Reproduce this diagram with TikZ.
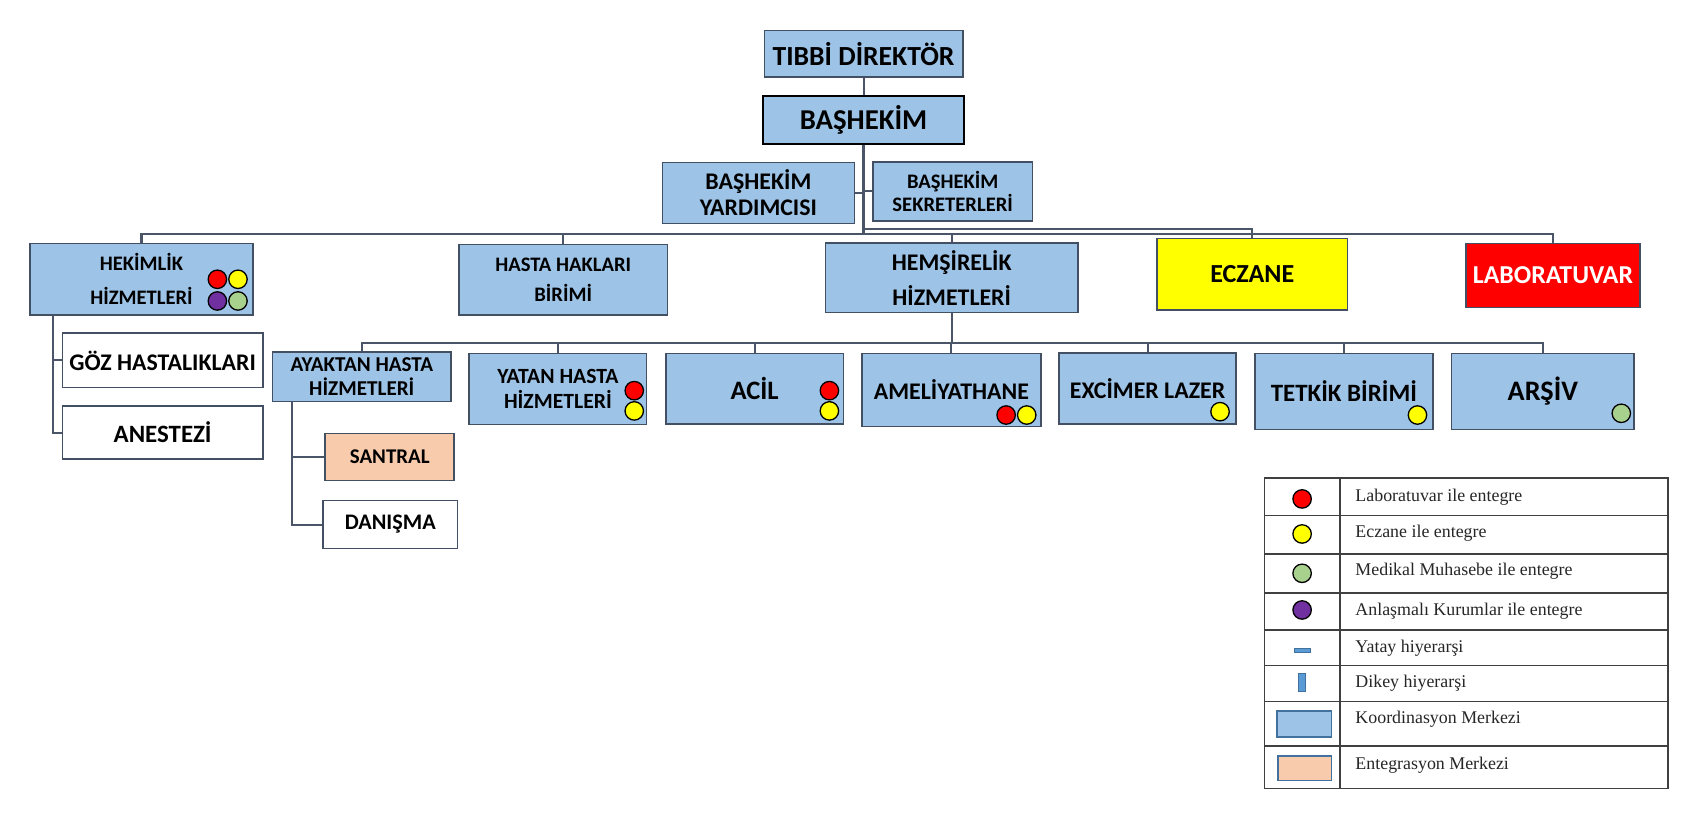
\documentclass[tikz,border=0pt]{standalone}
\usepackage{fontspec}
\setmainfont{Liberation Serif}
\newfontfamily\boxfont{Carlito}
\usepackage{xcolor}
\usepackage{tikz}

\definecolor{coord_blue}{HTML}{9DC3E6}
\definecolor{integ_peach}{HTML}{F8CBAD}
\definecolor{edge_gray}{HTML}{435063}
\definecolor{wire_gray}{HTML}{4A5668}
\definecolor{dot_red}{HTML}{FF0000}
\definecolor{dot_yellow}{HTML}{FFFF00}
\definecolor{dot_green}{HTML}{A9D18E}
\definecolor{dot_purple}{HTML}{7030A0}
\definecolor{legend_blue}{HTML}{41719C}
\definecolor{bar_blue}{HTML}{5B9BD5}

\tikzset{
    treenode/.style = {align=center, inner sep=0pt, text centered, rectangle, draw=edge_gray, line width=1.5pt},
    blue_node/.style = {treenode, fill=coord_blue},
    white_node/.style = {treenode, fill=white},
    peach_node/.style = {treenode, fill=integ_peach},
    yellow_node/.style = {treenode, fill=dot_yellow},
    red_node/.style = {treenode, fill=dot_red, text=white},
    chief_node/.style = {blue_node, draw=black, line width=2.2pt},
    dim/.style 2 args = {minimum width=#1pt, minimum height=#2pt},
    txt/.style 2 args = {font=\boxfont\bfseries\fontsize{#1}{#2}\selectfont},
    wire/.style = {draw=wire_gray, line width=1.9pt},
    trunk/.style = {draw=wire_gray, line width=2.6pt},
    dot_ring/.style = {draw=black, line width=1.2pt},
    grid_line/.style = {draw=black!75, line width=1.2pt},
    legend_text/.style = {anchor=west, inner sep=0pt, font=\fontsize{16.5}{19}\selectfont, text=black!85}
}

\begin{document}
\begin{tikzpicture}[x=1pt, y=-1pt]
    \useasboundingbox (0,0) rectangle (1568,756.3);

    % top of the chart
    \node[blue_node, dim={183}{43}, txt={25.5}{28}] (tibbi) at (796.5,49.5) {TIBBİ DİREKTÖR};
    \node[chief_node, dim={185}{44}, txt={26.5}{30}] (bashekim) at (796.5,110.7) {BAŞHEKİM};
    \node[blue_node, dim={177}{56}, txt={22}{24}] (yardimci) at (699.5,178) {BAŞHEKİM\\YARDIMCISI};
    \node[blue_node, dim={147.5}{54}, txt={19}{21}] (sekreter) at (878.7,176.6) {BAŞHEKİM\\SEKRETERLERİ};

    % first level
    \node[blue_node, dim={206}{66}, txt={19}{31}] (hekimlik) at (130.5,257.5) {HEKİMLİK\\HİZMETLERİ};
    \node[blue_node, dim={192}{65}, txt={19}{28}] (hasta) at (519.5,258) {HASTA HAKLARI\\BİRİMİ};
    \node[blue_node, dim={233}{64}, txt={22}{33}] (hemsire) at (877.8,256.4) {HEMŞİRELİK\\HİZMETLERİ};
    \node[yellow_node, dim={176}{66}, txt={24}{27}] (eczane) at (1155,253) {ECZANE};
    \node[red_node, dim={160.7}{59}, txt={23.8}{27}] (lab) at (1432.4,254) {LABORATUVAR};

    % under hekimlik
    \node[white_node, dim={185}{50}, txt={22}{25}] (goz) at (150,332.4) {GÖZ HASTALIKLARI};
    \node[white_node, dim={185}{49}, txt={23}{25}] (anestezi) at (150,399) {ANESTEZİ};

    % under hemsirelik
    \node[blue_node, dim={164.5}{45.5}, txt={19.5}{22}] (ayaktan) at (333.7,347.7) {AYAKTAN HASTA\\HİZMETLERİ};
    \node[blue_node, dim={163.6}{65.4}, txt={20}{22.5}] (yatan) at (514.6,358.7) {YATAN HASTA\\HİZMETLERİ};
    \node[blue_node, dim={164}{65}, txt={24.5}{26}] (acil) at (696,358.5) {ACİL};
    \node[blue_node, dim={165}{67.6}, txt={22}{25}] (ameliyat) at (877.5,359.7) {AMELİYATHANE};
    \node[blue_node, dim={163}{65.5}, txt={22}{25}] (excimer) at (1058.5,358.6) {EXCİMER LAZER};
    \node[blue_node, dim={164}{70}, txt={23}{25}] (tetkik) at (1239.5,361) {TETKİK BİRİMİ};
    \node[blue_node, dim={168.5}{70}, txt={26}{29}] (arsiv) at (1423,361) {ARŞİV};

    % under ayaktan
    \node[peach_node, dim={119}{43.3}, txt={19.3}{22}] (santral) at (359.5,421.4) {SANTRAL};
    \node[white_node, dim={124}{44}, txt={20.5}{23}] (danisma) at (360,483.8) {DANIŞMA};

    % connectors
    \coordinate (hub) at (796.5,216);
    \coordinate (hub_e) at (796.5,211);
    \coordinate (hub2) at (877.8,316.7);
    \coordinate (hek_l) at (48.5,290.5);
    \coordinate (ayk_l) at (269,370.5);

    \draw[wire] (tibbi) -- (bashekim);
    \draw[trunk] (bashekim.south) -- (hub);
    \draw[wire] (yardimci.east) -- (yardimci.east -| hub);
    \draw[wire] (sekreter.west) -- (sekreter.west -| hub);
    \draw[wire] (hekimlik.north) |- (hub) -| (lab.north);
    \draw[wire] (hub_e) -| (eczane.north);
    \draw[wire] (hasta.north) -- (hasta.north |- hub);
    \draw[wire] (hemsire.north) -- (hemsire.north |- hub);

    \draw[wire] (hemsire.south) -- (hub2);
    \draw[wire] (ayaktan.north) |- (hub2) -| (arsiv.north);
    \foreach \n in {yatan,acil,ameliyat,excimer,tetkik}
        \draw[wire] (\n.north) -- (\n.north |- hub2);

    \draw[wire] (hek_l) |- (anestezi.west);
    \draw[wire] (goz.west) -- (goz.west -| hek_l);
    \draw[wire] (ayk_l) |- (danisma.west);
    \draw[wire] (santral.west) -- (santral.west -| ayk_l);

    % integration dots
    \draw[dot_ring, fill=dot_red] (200.5,257.6) circle (8.5pt);
    \draw[dot_ring, fill=dot_yellow] (219.5,257.6) circle (8.5pt);
    \draw[dot_ring, fill=dot_purple] (200.5,277.6) circle (8.5pt);
    \draw[dot_ring, fill=dot_green] (219.5,277.6) circle (8.5pt);
    \draw[dot_ring, fill=dot_red] (585,360.3) circle (8.5pt);
    \draw[dot_ring, fill=dot_yellow] (585,379) circle (8.5pt);
    \draw[dot_ring, fill=dot_red] (765,360.3) circle (8.5pt);
    \draw[dot_ring, fill=dot_yellow] (765,379) circle (8.5pt);
    \draw[dot_ring, fill=dot_red] (928,382.8) circle (8.5pt);
    \draw[dot_ring, fill=dot_yellow] (947,382.8) circle (8.5pt);
    \draw[dot_ring, fill=dot_yellow] (1125.3,379.7) circle (8.5pt);
    \draw[dot_ring, fill=dot_yellow] (1307.4,382.8) circle (8.5pt);
    \draw[dot_ring, fill=dot_green] (1495.4,381.2) circle (8.5pt);

    % legend
    \draw[grid_line] (1166,441) rectangle (1538.5,727);
    \foreach \y in {475.5,511,547,581,614,647,688}
        \draw[grid_line] (1166,\y) -- (1538.5,\y);
    \draw[grid_line] (1236,441) -- (1236,727);

    \draw[dot_ring, fill=dot_red] (1201,460.2) circle (8.5pt);
    \draw[dot_ring, fill=dot_yellow] (1201,492.5) circle (8.5pt);
    \draw[dot_ring, fill=dot_green] (1201,528.8) circle (8.5pt);
    \draw[dot_ring, fill=dot_purple] (1201,562.6) circle (8.5pt);
    \draw[draw=legend_blue, fill=bar_blue, line width=0.8pt] (1194,598) rectangle (1209,601.5);
    \draw[draw=legend_blue, fill=bar_blue, line width=0.8pt] (1198,621) rectangle (1204,638);
    \draw[draw=legend_blue, fill=coord_blue, line width=1.6pt] (1178,656) rectangle (1228,680);
    \draw[draw=legend_blue, fill=integ_peach, line width=1.6pt] (1179,697) rectangle (1228,720);

    \node[legend_text] (leg_lab) at (1250,458.2) {Laboratuvar ile entegre};
    \node[legend_text] (leg_ecz) at (1250,492) {Eczane ile entegre};
    \node[legend_text] (leg_med) at (1250,527.3) {Medikal Muhasebe ile entegre};
    \node[legend_text] (leg_anl) at (1250,564.2) {Anlaşmalı Kurumlar ile entegre};
    \node[legend_text] (leg_yat) at (1250,598) {Yatay hiyerarşi};
    \node[legend_text] (leg_dik) at (1250,630.3) {Dikey hiyerarşi};
    \node[legend_text] (leg_koo) at (1250,663.5) {Koordinasyon Merkezi};
    \node[legend_text] (leg_ent) at (1250,705.6) {Entegrasyon Merkezi};
\end{tikzpicture}
\end{document}
